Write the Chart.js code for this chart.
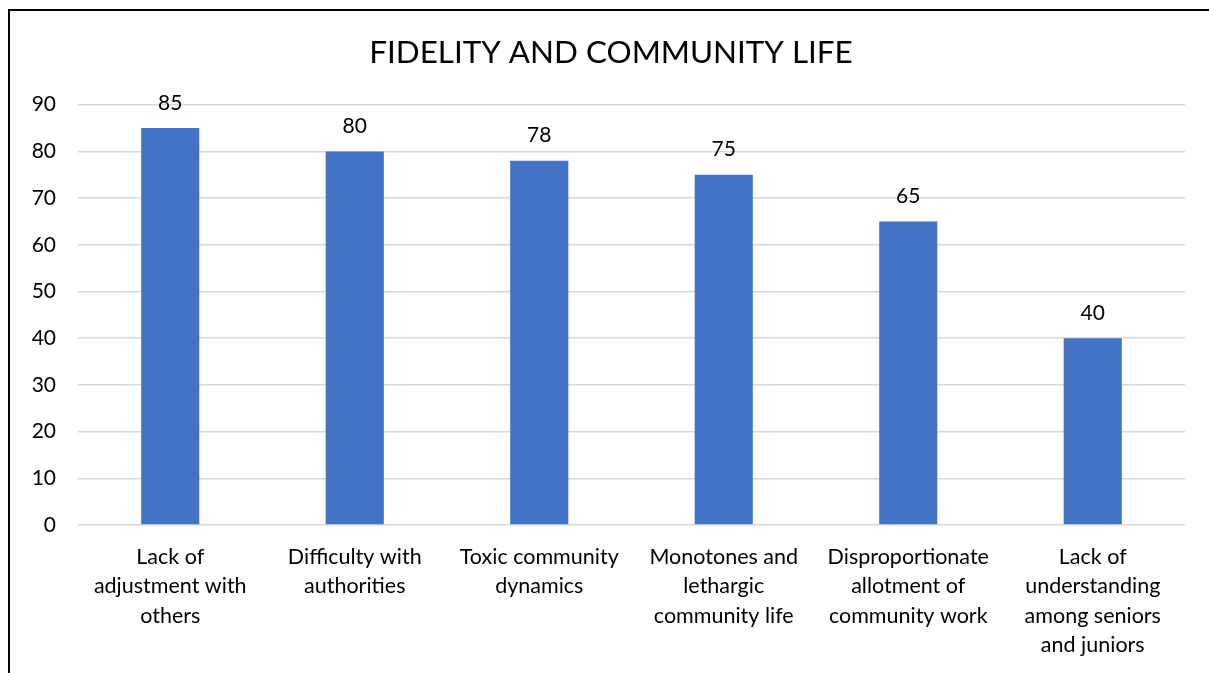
<!DOCTYPE html>
<html>
<head>
<meta charset="utf-8">
<title>Fidelity and community life</title>
<script src="https://cdn.jsdelivr.net/npm/chart.js@4"></script>
<style>
  html, body { margin: 0; padding: 0; background: #fff; overflow: hidden; }
  #wrap { position: relative; width: 1209px; height: 673px; }
  #frame { position: absolute; left: 8px; top: 9px; right: 0; bottom: 0;
           border-left: 2px solid #000; border-top: 2px solid #000; }
  #myChart { position: absolute; left: 0; top: 0; }
</style>
</head>
<body>
<div id="wrap">
  <div id="frame"></div>
  <canvas id="myChart" width="1209" height="673"></canvas>
</div>
<script>
const categories = [
    ["Lack of", "adjustment with", "others"],
    ["Difficulty with", "authorities"],
    ["Toxic community", "dynamics"],
    ["Monotones and", "lethargic", "community life"],
    ["Disproportionate", "allotment of", "community work"],
    ["Lack of", "understanding", "among seniors", "and juniors"]
]
const values = [85, 80, 78, 75, 65, 40]
const yTicks = [0, 10, 20, 30, 40, 50, 60, 70, 80, 90]

const fontFamily = "Lato, 'Open Sans', sans-serif"

// writes each bar's value just above it
const valueLabels = {
    id: 'valueLabels',
    afterDatasetsDraw(chart) {
        const ctx = chart.ctx
        ctx.save()
        ctx.font = "21px " + fontFamily
        ctx.fillStyle = "#000"
        ctx.textAlign = "center"
        ctx.textBaseline = "middle"
        chart.getDatasetMeta(0).data.forEach((bar, i) => {
            ctx.fillText(values[i], bar.x, bar.y - 25)
        })
        ctx.restore()
    }
}

// nudge the title box so it is centred a bit right of the canvas middle
const titleShift = {
    id: 'titleShift',
    afterLayout(chart) {
        if (chart.titleBlock) chart.titleBlock.left += 37
    }
}

new Chart("myChart", {
    type: "bar",
    data: {
        labels: categories,
        datasets: [{
            label: "Fidelity",
            data: values,
            backgroundColor: "#4472c4",
            barPercentage: 0.315,
            categoryPercentage: 1
        }]
    },
    options: {
        responsive: false,
        animation: false,
        layout: { padding: { left: 0, right: 24, top: 0, bottom: 0 } },
        plugins: {
            legend: { display: false },
            tooltip: { enabled: false },
            title: {
                display: true,
                text: "FIDELITY AND COMMUNITY LIFE",
                color: "#000",
                font: { family: fontFamily, size: 31.4, weight: "normal" },
                padding: { top: 34, bottom: 33 }
            }
        },
        scales: {
            x: {
                grid: { display: false },
                border: { display: false },
                ticks: {
                    color: "#000",
                    font: { family: fontFamily, size: 21.5, lineHeight: 1.37 },
                    padding: 9,
                    maxRotation: 0,
                    autoSkip: false
                },
                afterFit(scale) { scale.height = 148 }
            },
            y: {
                min: 0,
                max: 90,
                afterBuildTicks(scale) { scale.ticks = yTicks.map(v => ({ value: v })) },
                grid: { color: "#d9d9d9", lineWidth: 1.5, drawTicks: false },
                border: { display: false },
                ticks: {
                    color: "#000",
                    font: { family: fontFamily, size: 21 },
                    padding: 22
                },
                afterFit(scale) { scale.width = 78 }
            }
        }
    },
    plugins: [valueLabels, titleShift]
})
</script>
</body>
</html>
